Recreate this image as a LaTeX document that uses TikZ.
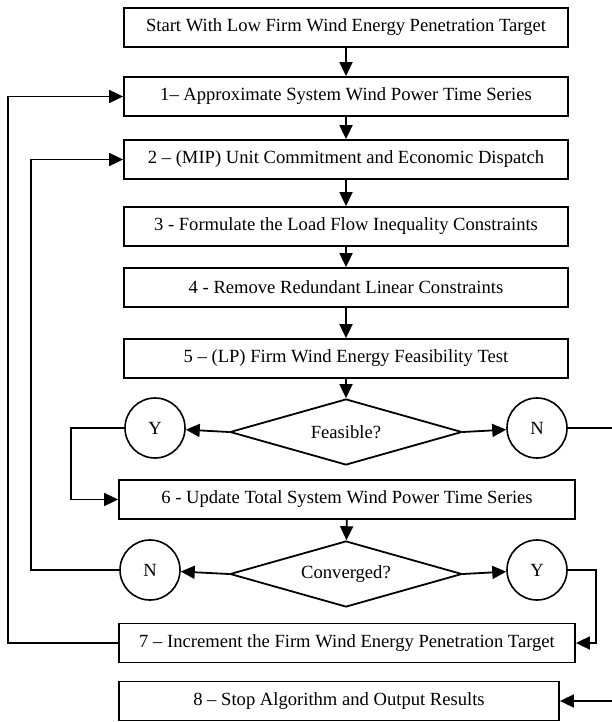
\documentclass[tikz,border=0pt]{standalone}
\usepackage{fontspec}
\setmainfont{Liberation Serif}
\usetikzlibrary{shapes.geometric,arrows.meta}
\begin{document}
\begin{tikzpicture}[x=1pt,y=-1pt,
	font=\fontsize{18.6}{21}\selectfont,
	stepbox/.style={draw,line width=1.8pt,minimum width=444pt,minimum height=39pt,inner sep=0pt},
	testbox/.style={draw,diamond,aspect=3.5,line width=1.8pt,minimum width=232pt,minimum height=66pt,inner sep=0pt},
	answer/.style={draw,circle,line width=1.6pt,minimum size=60pt,inner sep=0pt},
	wire/.style={line width=1.8pt,-{Triangle[length=14pt,width=13pt]}}]
	\useasboundingbox (0,0) rectangle (612,722);
	\clip (0,0) rectangle (612,722);
	\node[stepbox] (start) at (346,27.5) {Start With Low Firm Wind Energy Penetration Target};
	\node[stepbox] (s1) at (346,96.5) {1– Approximate System Wind Power Time Series};
	\node[stepbox] (s2) at (346,159.5) {2 – (MIP) Unit Commitment and Economic Dispatch};
	\node[stepbox] (s3) at (346,226.5) {3 - Formulate the Load Flow Inequality Constraints};
	\node[stepbox] (s4) at (346,287.5) {4 - Remove Redundant Linear Constraints};
	\node[stepbox] (s5) at (346,358.5) {5 – (LP) Firm Wind Energy Feasibility Test};
	\node[testbox] (feas) at (346,432) {Feasible?};
	\node[answer] (fy) at (155,428) {Y};
	\node[answer] (fn) at (537,428) {N};
	\node[stepbox,minimum width=456pt] (s6) at (347,499.5) {6 - Update Total System Wind Power Time Series};
	\node[testbox] (conv) at (346,574) {Converged?};
	\node[answer] (cn) at (150,570) {N};
	\node[answer] (cy) at (537,570) {Y};
	\node[stepbox,minimum width=456pt] (s7) at (347,643) {7 – Increment the Firm Wind Energy Penetration Target};
	\node[stepbox,minimum width=440pt] (s8) at (339,701) {8 – Stop Algorithm and Output Results};
	\draw[wire] (start) -- (s1);
	\draw[wire] (s1) -- (s2);
	\draw[wire] (s2) -- (s3);
	\draw[wire] (s3) -- (s4);
	\draw[wire] (s4) -- (s5);
	\draw[wire] (s5) -- (feas);
	\draw[wire] (feas.west) -- (fy);
	\draw[wire] (feas.east) -- (fn);
	\draw[wire] (fy.west) -- ++(-53,0) |- (s6.west);
	\draw[wire] (fn.east) -- ++(50,0) |- (s8.east);
	\draw[wire] (s6) -- (conv);
	\draw[wire] (conv.west) -- (cn);
	\draw[wire] (conv.east) -- (cy);
	\draw[wire] (cn.west) -- ++(-88,0) |- (s2.west);
	\draw[wire] (cy.east) -- ++(28,0) |- (s7.east);
	\draw[wire] (s7.west) -- ++(-110,0) |- (s1.west);
\end{tikzpicture}
\end{document}
